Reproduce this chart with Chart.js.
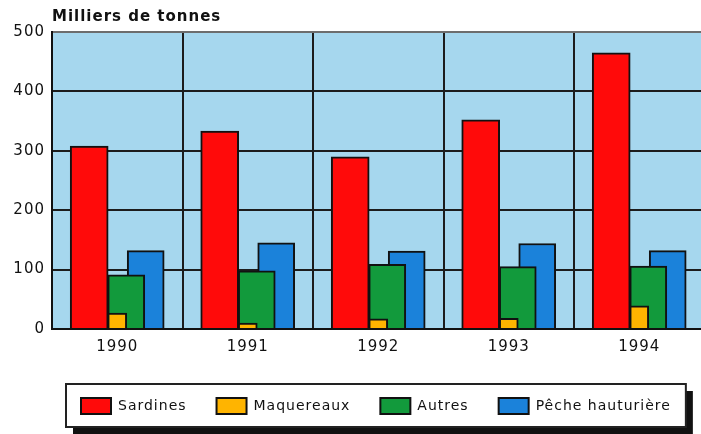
<!DOCTYPE html>
<html lang="fr">
  <head>
    <meta charset="UTF-8" />
    <title>Milliers de tonnes</title>
    <style>
      html,
      body {
        margin: 0;
        padding: 0;
        background: #fff;
        overflow: hidden;
      }
      #wrap {
        width: 701px;
        height: 434px;
      }
    </style>
  </head>

  <body>
    <div id="wrap"><canvas id="pecheChart"></canvas></div>

    <script src="https://cdn.jsdelivr.net/npm/chart.js"></script>
    <script>
      const years = [1990, 1991, 1992, 1993, 1994];
      const sardines = [308, 333, 290, 352, 465];
      const maquereaux = [27, 10, 17, 18, 39];
      const autres = [91, 98, 109, 105, 106];
      const peche = [132, 145, 131, 144, 132];
      const yTicks = [0, 100, 200, 300, 400, 500];
      const unitLabel = 'Milliers de tonnes';

      Chart.defaults.font.family = "'DejaVu Sans', sans-serif";
      Chart.defaults.color = '#111';

      // bars overlap inside each year, so each series gets its own shift
      function series(label, values, color, shift, width) {
        return {
          label: label,
          data: values.map((v, i) => ({ x: years[i] + shift, y: v })),
          backgroundColor: color,
          borderColor: '#111',
          borderWidth: 2,
          barThickness: width,
          grouped: false,
        };
      }

      // the original lettering is widely spaced
      const spacing = {
        id: 'spacing',
        beforeUpdate(chart) {
          chart.ctx.letterSpacing = '1px';
        },
        beforeDraw(chart) {
          chart.ctx.letterSpacing = '1px';
        },
      };

      const frame = {
        id: 'frame',
        afterLayout(chart) {
          chart.legend.left = 51;
        },
        beforeDraw(chart) {
          const { ctx, chartArea } = chart;
          ctx.save();
          ctx.fillStyle = '#a6d7ee';
          ctx.fillRect(
            chartArea.left,
            chartArea.top,
            chartArea.right - chartArea.left,
            chartArea.bottom - chartArea.top
          );

          // legend box with its shadow
          const lg = chart.legend;
          const pad = lg.options.labels.padding;
          const left = lg.left + pad - 15;
          const right = lg.left + lg.lineWidths[0] + 15;
          const top = lg.top + pad - 14;
          const w = right - left;
          const h = 43;
          ctx.fillStyle = '#111';
          ctx.fillRect(left + 7, top + 7, w, h);
          ctx.fillStyle = '#fff';
          ctx.fillRect(left, top, w, h);
          ctx.strokeStyle = '#222';
          ctx.lineWidth = 2;
          ctx.strokeRect(left, top, w, h);
          ctx.restore();
        },
        afterDraw(chart) {
          const ctx = chart.ctx;
          ctx.save();
          ctx.font = "bold 15px 'DejaVu Sans'";
          ctx.fillStyle = '#111';
          ctx.textAlign = 'left';
          ctx.textBaseline = 'alphabetic';
          ctx.fillText(unitLabel, chart.chartArea.left, 21);
          ctx.restore();
        },
      };

      const ctxPeche = document.getElementById('pecheChart').getContext('2d');
      const pecheChart = new Chart(ctxPeche, {
        type: 'bar',
        data: {
          datasets: [
            series('Sardines', sardines, '#ff0a0a', -0.215, 38),
            series('Maquereaux', maquereaux, '#ffb400', 0, 19),
            series('Autres', autres, '#129a3c', 0.069, 37),
            series('Pêche hauturière', peche, '#1b82da', 0.218, 37),
          ],
        },
        options: {
          responsive: true,
          maintainAspectRatio: false,
          animation: false,
          layout: {
            padding: { top: 32, bottom: 10, left: 0, right: 0 },
          },
          plugins: {
            legend: {
              position: 'bottom',
              align: 'start',
              labels: {
                boxWidth: 30,
                boxHeight: 16,
                padding: 30,
                color: '#111',
                font: { size: 14 },
              },
            },
            tooltip: { enabled: false },
          },
          scales: {
            x: {
              type: 'linear',
              min: years[0] - 0.5,
              max: years[years.length - 1] + 0.473,
              offset: false,
              afterBuildTicks: (s) => {
                const t = [];
                years.forEach((y) => {
                  t.push({ value: y - 0.5 });
                  t.push({ value: y });
                });
                s.ticks = t;
              },
              afterFit: (s) => {
                s.height = 39;
              },
              grid: {
                offset: false,
                drawTicks: false,
                lineWidth: 2,
                color: (c) =>
                  c.tick && Number.isInteger(c.tick.value)
                    ? 'rgba(0,0,0,0)'
                    : '#1c1c1c',
              },
              border: { color: '#111', width: 2 },
              ticks: {
                autoSkip: false,
                maxRotation: 0,
                padding: 9,
                font: { size: 15 },
                callback: (v) => (Number.isInteger(v) ? String(v) : ''),
              },
            },
            y: {
              min: 0,
              max: 500,
              afterBuildTicks: (s) => {
                s.ticks = yTicks.map((v) => ({ value: v }));
              },
              afterFit: (s) => {
                s.width = 52;
              },
              grid: {
                drawTicks: false,
                lineWidth: 2,
                color: (c) =>
                  c.tick && c.tick.value === 500 ? '#6d6d6d' : '#1c1c1c',
              },
              border: { color: '#111', width: 2 },
              ticks: {
                padding: 7,
                font: { size: 15 },
              },
            },
          },
        },
        plugins: [spacing, frame],
      });
    </script>
  </body>
</html>
